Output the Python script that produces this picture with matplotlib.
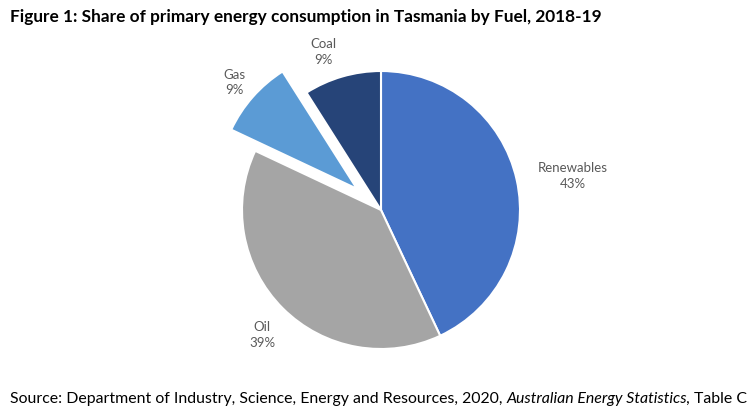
import matplotlib
matplotlib.use("Agg")
import matplotlib.pyplot as plt
import numpy as np

plt.rcParams['font.family'] = ['Lato', 'DejaVu Sans']

fuels = ['Renewables', 'Oil', 'Gas', 'Coal']
shares = [43, 39, 9, 9]
colors = ['#4472C4', '#A5A5A5', '#5B9BD5', '#264478']
explode = [0, 0, 0.23, 0]

# label placement (angle in degrees, distance in radii)
label_angle = [10, -133.6, 139, 110]
label_dist = [1.40, 1.24, 1.40, 1.21]

W, H = 755, 416
cx, cy, r = 381, 210, 139

fig = plt.figure(figsize=(W / 100, H / 100), dpi=100)
ax = fig.add_axes([0, 0, 1, 1])

ax.pie(shares, colors=colors, explode=explode, startangle=90, counterclock=False,
       radius=1, wedgeprops=dict(edgecolor='white', linewidth=1.5))

# pie() resets the limits, so set them afterwards
ax.set_xlim(-cx / r, (W - cx) / r)
ax.set_ylim(-(H - cy) / r, cy / r)
ax.set_aspect('equal')
ax.axis('off')

for name, v, a, d in zip(fuels, shares, label_angle, label_dist):
    t = np.deg2rad(a)
    ax.text(d * np.cos(t), d * np.sin(t), f"{name}\n{v}%", ha='center', va='center',
            fontsize=9.5, color='#595959', linespacing=1.35)

fig.text(10 / W, 1 - 17 / H, 'Figure 1: Share of primary energy consumption in Tasmania by Fuel, 2018-19',
         fontsize=12.4, fontweight='bold', va='center', ha='left', color='black')

src_y = 1 - 399 / H
src_size = 11.4
t1 = fig.text(10 / W, src_y, 'Source: Department of Industry, Science, Energy and Resources, 2020, ',
              fontsize=src_size, va='center', ha='left', color='black')
fig.canvas.draw()
bb = t1.get_window_extent()
t2 = fig.text(bb.x1 / W, src_y, 'Australian Energy Statistics,', fontsize=src_size,
              style='italic', va='center', ha='left', color='black')
fig.canvas.draw()
bb2 = t2.get_window_extent()
fig.text((bb2.x1 + 3) / W, src_y, 'Table C', fontsize=src_size, va='center', ha='left', color='black')

fig.savefig('out.png', dpi=100)
